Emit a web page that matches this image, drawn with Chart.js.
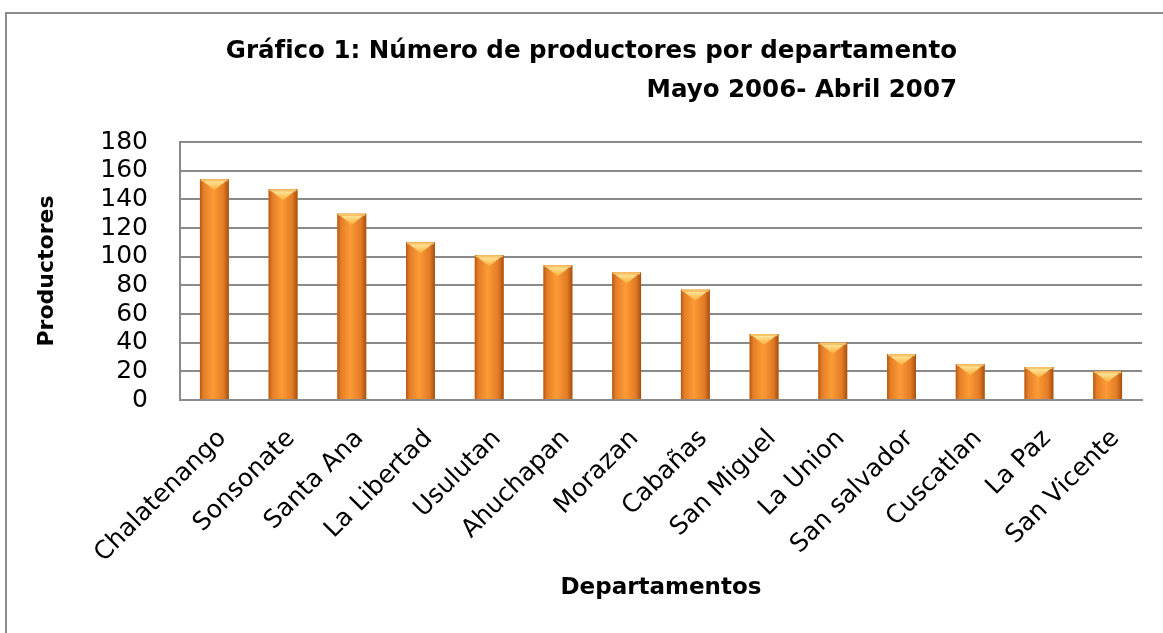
<!doctype html>
<html lang="es">
<head>
<meta charset="utf-8">
<title>Número de productores por departamento</title>
<script src="https://cdn.jsdelivr.net/npm/chart.js@4/dist/chart.umd.min.js"></script>
<style>
  html, body { margin: 0; padding: 0; background: #fff; overflow: hidden; }
  #wrap { position: relative; width: 1163px; height: 633px; }
  #frame { position: absolute; left: 5px; top: 12px; width: 1200px; height: 700px; border: 2px solid #8c8c8c; box-sizing: border-box; }
  #chart { position: absolute; left: 0; top: 0; }
</style>
</head>
<body>
<div id="wrap">
  <div id="frame"></div>
  <canvas id="chart" width="1163" height="633"></canvas>
</div>

<script>
// datos
const departamentos = ['Chalatenango', 'Sonsonate', 'Santa Ana', 'La Libertad', 'Usulutan', 'Ahuchapan',
  'Morazan', 'Cabañas', 'San Miguel', 'La Union', 'San salvador', 'Cuscatlan', 'La Paz', 'San Vicente'];
const productores = [154, 147, 130, 110, 101, 94, 89, 77, 46, 40, 32, 25, 23, 20];

const titulo = ['Gráfico 1: Número de productores por departamento', 'Mayo 2006- Abril 2007'];
const ejeX = 'Departamentos';
const ejeY = 'Productores';

const gris = '#8a8a8a';
const fuente = '"DejaVu Sans", "Open Sans", sans-serif';

// titulo en dos lineas, alineado a la derecha como en el original
const tituloPlugin = {
  id: 'tituloPlugin',
  afterDraw(chart) {
    const ctx = chart.ctx;
    ctx.save();
    ctx.fillStyle = '#000';
    ctx.font = 'bold 24.5px ' + fuente;
    ctx.textAlign = 'right';
    ctx.textBaseline = 'middle';
    ctx.fillText(titulo[0], 957, 52);
    ctx.fillText(titulo[1], 957, 91);
    ctx.restore();
  }
};

// relleno con degradado y bisel amarillo arriba de cada barra
const brilloBarras = {
  id: 'brilloBarras',
  afterDatasetsDraw(chart) {
    const ctx = chart.ctx;
    chart.getDatasetMeta(0).data.forEach(bar => {
      const p = bar.getProps(['x', 'y', 'base', 'width'], true);
      const l = p.x - p.width / 2, r = p.x + p.width / 2;
      const g = ctx.createLinearGradient(l, 0, r, 0);
      g.addColorStop(0, '#b55813');
      g.addColorStop(0.12, '#e47d27');
      g.addColorStop(0.45, '#fc9b36');
      g.addColorStop(0.82, '#e27b25');
      g.addColorStop(1, '#a44f10');
      ctx.save();
      ctx.fillStyle = g;
      ctx.fillRect(l, p.y, p.width, p.base - p.y);
      // franja clara arriba
      ctx.fillStyle = '#f9c56a';
      ctx.fillRect(l + 1, p.y, p.width - 2, 2);
      // triangulo del bisel
      const t = ctx.createLinearGradient(0, p.y, 0, p.y + 10);
      t.addColorStop(0, '#fff2b0');
      t.addColorStop(1, '#fbb240');
      ctx.fillStyle = t;
      ctx.beginPath();
      ctx.moveTo(l + 3, p.y + 2);
      ctx.lineTo(r - 3, p.y + 2);
      ctx.lineTo(p.x, p.y + 11);
      ctx.closePath();
      ctx.fill();
      ctx.restore();
    });
  }
};

new Chart(document.getElementById('chart'), {
  type: 'bar',
  data: {
    labels: departamentos,
    datasets: [{
      label: ejeY,
      data: productores,
      backgroundColor: '#f28c2c',
      borderWidth: 0,
      barPercentage: 0.84,
      categoryPercentage: 0.5
    }]
  },
  options: {
    responsive: false,
    animation: false,
    layout: { padding: { left: 0, top: 142, right: 21, bottom: 0 } },
    plugins: {
      legend: { display: false },
      tooltip: { enabled: false },
      title: { display: false }
    },
    scales: {
      x: {
        afterFit(scale) { scale.height = 233; },
        grid: { display: false, drawTicks: false },
        border: { display: true, color: gris, width: 2 },
        ticks: {
          color: '#000',
          font: { family: fuente, size: 25 },
          minRotation: 45,
          maxRotation: 45,
          autoSkip: false,
          labelOffset: 8,
          padding: 24
        },
        title: {
          display: true,
          text: ejeX,
          color: '#000',
          font: { family: fuente, size: 23, weight: 'bold' },
          padding: { top: 0, bottom: 31 }
        }
      },
      y: {
        min: 0,
        max: 180,
        afterFit(scale) { scale.width = 180; },
        grid: { color: gris, lineWidth: 2, drawTicks: false },
        border: { display: true, color: gris, width: 2 },
        ticks: {
          stepSize: 20,
          autoSkip: false,
          color: '#000',
          font: { family: fuente, size: 25 },
          padding: 32
        },
        title: {
          display: true,
          text: ejeY,
          color: '#000',
          font: { family: fuente, size: 22, weight: 'bold' },
          padding: { top: 34, bottom: 0 }
        }
      }
    }
  },
  plugins: [brilloBarras, tituloPlugin]
});
</script>
</body>
</html>
